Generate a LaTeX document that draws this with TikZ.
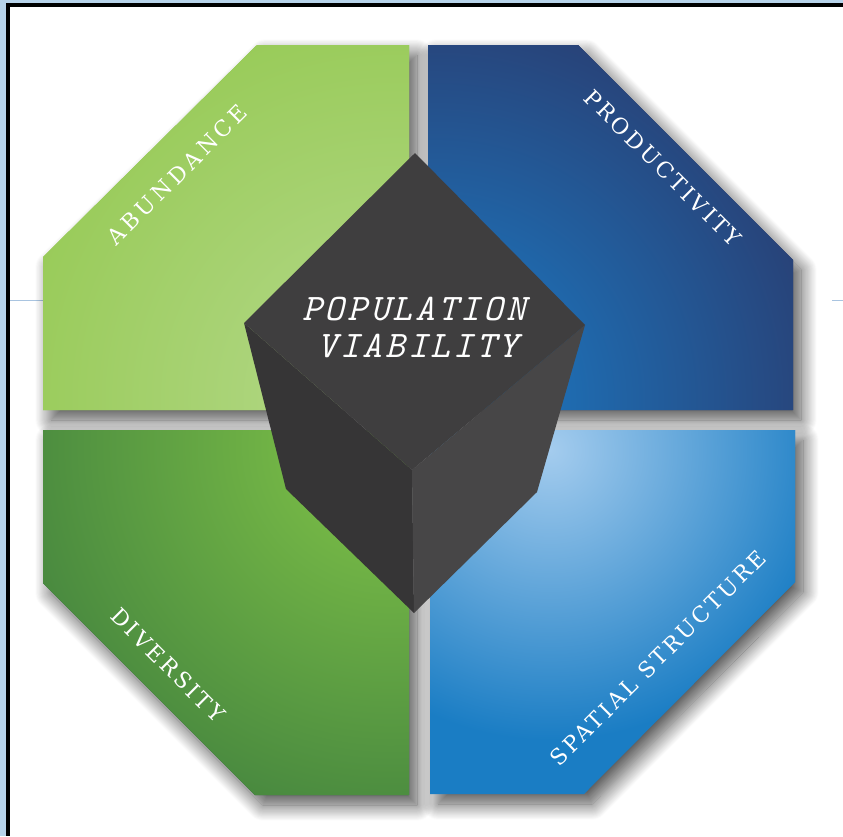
\documentclass[tikz,border=0pt]{standalone}
\usepackage{fontspec}
\usetikzlibrary{shadows.blur}

\newfontfamily\slabfont{DejaVu Serif}[LetterSpace=13]
\newfontfamily\slabitfont{lmmono10-italic.otf}[LetterSpace=8]

\definecolor{framelite}{HTML}{B7D3EA}
\definecolor{rulelite}{HTML}{A9C4E0}
\definecolor{abundout}{HTML}{8AC43F}
\definecolor{abundin}{HTML}{B6D98D}
\definecolor{prodout}{HTML}{2B3566}
\definecolor{prodin}{HTML}{1A80CC}
\definecolor{divout}{HTML}{27663A}
\definecolor{divin}{HTML}{82C548}
\definecolor{spatout}{HTML}{1A7DC4}
\definecolor{spatin}{HTML}{A4CCEE}
\definecolor{cubetop}{HTML}{3F3E3F}
\definecolor{cubeleft}{HTML}{363536}
\definecolor{cuberight}{HTML}{474647}

\begin{document}
\begin{tikzpicture}[x=1pt, y=-1pt,
  panel/.style={blur shadow={shadow xshift=8pt, shadow yshift=-10pt, shadow blur radius=16pt, shadow blur steps=30, shadow opacity=70}},
  facet/.style={text=white, inner sep=0pt, font={\slabfont\fontsize{22}{22}\selectfont}},
  core/.style={text=white, inner sep=0pt, anchor=base, font={\slabitfont\fontsize{37.5}{37.5}\selectfont}}]
  \useasboundingbox (0,0) rectangle (843,836);
  % Frame on the left and top
  \fill[framelite] (0,0) rectangle (6,836);
  \fill[framelite] (0,0) rectangle (843,3);
  \fill[black] (6,3) rectangle (10,836);
  \fill[black] (6,3) rectangle (843,7);
  \draw[rulelite, line width=1] (10,300) -- (43,300);
  \draw[rulelite, line width=1] (832,300) -- (843,300);

  % Abundance
  \fill[abundout, panel] (43,257) -- (257,45) -- (409,45) -- (409,410) -- (43,410) -- cycle;
  \begin{scope}
    \clip (43,257) -- (257,45) -- (409,45) -- (409,410) -- (43,410) -- cycle;
    \shade[inner color=abundin, outer color=abundout] (395,400) circle (580);
  \end{scope}
  % Productivity
  \fill[prodout, panel] (428,45) -- (578,45) -- (793,260) -- (793,410) -- (428,410) -- cycle;
  \begin{scope}
    \clip (428,45) -- (578,45) -- (793,260) -- (793,410) -- (428,410) -- cycle;
    \shade[inner color=prodin, outer color=prodout] (435,400) circle (470);
  \end{scope}
  % Diversity
  \fill[divout, panel] (43,430) -- (409,430) -- (409,795) -- (255,795) -- (43,583) -- cycle;
  \begin{scope}
    \clip (43,430) -- (409,430) -- (409,795) -- (255,795) -- (43,583) -- cycle;
    \shade[inner color=divin, outer color=divout] (390,445) circle (600);
  \end{scope}
  % Spatial structure
  \fill[spatout, panel] (430,430) -- (795,430) -- (795,582) -- (584,794) -- (430,794) -- cycle;
  \begin{scope}
    \clip (430,430) -- (795,430) -- (795,582) -- (584,794) -- (430,794) -- cycle;
    \shade[inner color=spatin, outer color=spatout] (550,450) circle (290);
  \end{scope}

  % Cube in the middle
  \coordinate (ctop) at (415,153);
  \coordinate (cright) at (585,325);
  \coordinate (cmid) at (412,470);
  \coordinate (cleft) at (244,323);
  \coordinate (cbl) at (286,489);
  \coordinate (cbr) at (537,492);
  \coordinate (cbot) at (414,613);
  \fill[cubeleft] (cleft) -- (cmid) -- (cbot) -- (cbl) -- cycle;
  \fill[cuberight] (cmid) -- (cright) -- (cbr) -- (cbot) -- cycle;
  \fill[cubetop] (ctop) -- (cright) -- (cmid) -- (cleft) -- cycle;

  % Labels
  \node[core] (popu) at (414,320) {POPULATION};
  \node[core] (viab) at (418,357) {VIABILITY};
  \node[facet, rotate=45] (abund) at (177,175) {\addfontfeature{LetterSpace=18}ABUNDANCE};
  \node[facet, rotate=-45] (prod) at (663,168) {PRODUCTIVITY};
  \node[facet, rotate=-45] (div) at (168,665) {DIVERSITY};
  \node[facet, rotate=45] (spat) at (658,658) {SPATIAL STRUCTURE};
\end{tikzpicture}
\end{document}
